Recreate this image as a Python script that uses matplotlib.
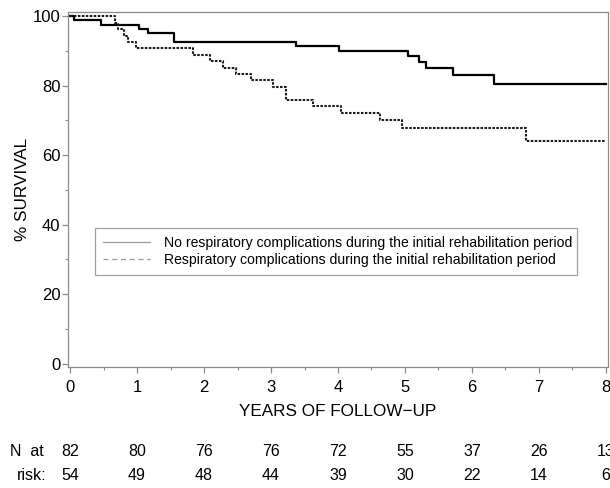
import matplotlib
matplotlib.use("Agg")
import matplotlib.pyplot as plt
import matplotlib.transforms as mtransforms
from matplotlib.lines import Line2D
from matplotlib.ticker import MultipleLocator

plt.rcParams["font.family"] = ["Liberation Sans", "DejaVu Sans"]

# Kaplan-Meier step curves (years, % survival)
no_resp_t = [0.0, 0.06, 0.46, 1.03, 1.16, 1.55, 3.37, 4.01, 5.05, 5.21, 5.31, 5.72, 6.33, 8.0]
no_resp_s = [100.0, 98.8, 97.6, 96.3, 95.1, 92.6, 91.4, 90.1, 88.6, 86.8, 85.0, 83.2, 80.6, 80.6]

resp_t = [0.0, 0.67, 0.72, 0.80, 0.87, 0.985, 1.83, 2.09, 2.28, 2.48, 2.70, 3.03, 3.23,
          3.62, 4.05, 4.63, 4.96, 6.81, 8.0]
resp_s = [100.0, 98.1, 96.3, 94.4, 92.6, 90.7, 88.9, 87.0, 85.2, 83.3, 81.5, 79.6, 75.9,
          74.1, 72.2, 70.1, 67.8, 64.0, 64.0]

labels = ["No respiratory complications during the initial rehabilitation period",
          "Respiratory complications during the initial rehabilitation period"]

risk_years = [0, 1, 2, 3, 4, 5, 6, 7, 8]
risk_no_resp = [82, 80, 76, 76, 72, 55, 37, 26, 13]
risk_resp = [54, 49, 48, 44, 39, 30, 22, 14, 6]

fig = plt.figure(figsize=(6.1, 4.88), dpi=100)
ax = fig.add_axes([68 / 610, 1 - 367 / 488, 540 / 610, 355 / 488])

ax.step(no_resp_t, no_resp_s, where="post", color="black", lw=1.6)
ax.step(resp_t, resp_s, where="post", color="#1a1a1a", lw=1.5, linestyle=(0, (1.2, 0.7)))

ax.set_xlim(-0.03, 8.03)
ax.set_ylim(-1.0, 101.2)
ax.xaxis.set_major_locator(MultipleLocator(1))
ax.xaxis.set_minor_locator(MultipleLocator(0.5))
ax.yaxis.set_major_locator(MultipleLocator(20))
ax.yaxis.set_minor_locator(MultipleLocator(10))

grey = "#8c8c8c"
for sp in ax.spines.values():
    sp.set_color(grey)
    sp.set_linewidth(0.9)
ax.tick_params(which="major", length=4, width=0.9, color=grey, labelsize=12)
ax.tick_params(which="minor", length=2.5, width=0.8, color=grey)
ax.tick_params(axis="x", which="major", pad=5)
ax.tick_params(axis="y", which="major", pad=1.5)

ax.set_xlabel("YEARS OF FOLLOW\u2212UP", fontsize=12.3, labelpad=6.5)
ax.set_ylabel("% SURVIVAL", fontsize=12.3, labelpad=2)

handles = [Line2D([], [], color="#9a9a9a", lw=0.9),
           Line2D([], [], color="#9a9a9a", lw=0.9, linestyle=(0, (4, 3)))]
leg = ax.legend(handles, labels, loc="upper left",
                bbox_to_anchor=(27 / 540, (367 - 228) / 355, 482 / 540, 0),
                mode="expand", borderaxespad=0, fontsize=10.1, frameon=True,
                fancybox=False, edgecolor="#a0a0a0", framealpha=1,
                handlelength=3.4, handletextpad=1.0, borderpad=0.55,
                labelspacing=0.25)
leg.get_frame().set_linewidth(0.9)

# numbers at risk below the axis
trans = mtransforms.blended_transform_factory(ax.transData, fig.transFigure)
for yr, a, b in zip(risk_years, risk_no_resp, risk_resp):
    ax.text(yr, 1 - 452 / 488, str(a), transform=trans, ha="center", va="center",
            fontsize=11.5, clip_on=False)
    ax.text(yr, 1 - 476 / 488, str(b), transform=trans, ha="center", va="center",
            fontsize=11.5, clip_on=False)
fig.text(10 / 610, 1 - 452 / 488, "N  at", ha="left", va="center", fontsize=11.5)
fig.text(17 / 610, 1 - 476 / 488, "risk:", ha="left", va="center", fontsize=11.5)

fig.savefig("out.png", dpi=100)
